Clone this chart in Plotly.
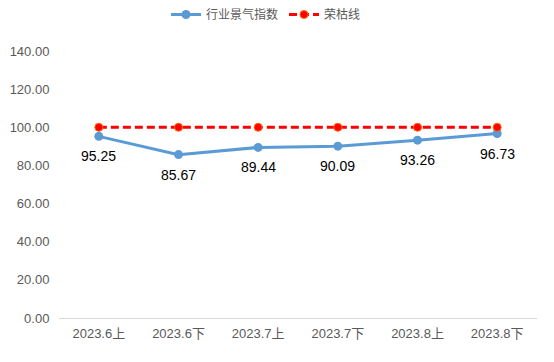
import plotly.graph_objects as go

categories = ["2023.6上", "2023.6下", "2023.7上", "2023.7下", "2023.8上", "2023.8下"]
index_values = [95.25, 85.67, 89.44, 90.09, 93.26, 96.73]
baseline_values = [100, 100, 100, 100, 100, 100]
y_ticks = [0, 20, 40, 60, 80, 100, 120, 140]

FONT = "Liberation Sans, Noto Sans CJK SC, sans-serif"

fig = go.Figure()
fig.add_trace(go.Scatter(
    x=categories, y=index_values, name="行业景气指数",
    mode="lines+markers",
    line=dict(color="#5B9BD5", width=3),
    marker=dict(color="#5B9BD5", size=9),
))
fig.add_trace(go.Scatter(
    x=categories, y=baseline_values, name="荣枯线",
    mode="lines+markers",
    line=dict(color="#FF0000", width=3, dash="8px,4px"),
    marker=dict(color="#FF0000", size=8, line=dict(color="#FF6A00", width=1)),
))

for c, v in zip(categories, index_values):
    fig.add_annotation(x=c, y=v, text=f"{v:.2f}", showarrow=False,
                       yshift=-20, yanchor="middle",
                       font=dict(size=14, color="#000000", family=FONT))

fig.update_layout(
    width=554, height=362,
    margin=dict(l=59, r=17, t=51, b=44, autoexpand=False),
    paper_bgcolor="white", plot_bgcolor="white",
    font=dict(family=FONT, size=13, color="#595959"),
    showlegend=True,
    legend=dict(orientation="h", x=166 / 554, xanchor="left", xref="container",
                y=1.0, yanchor="top", yref="container",
                font=dict(size=12, color="#595959"),
                itemwidth=30, entrywidth=73, entrywidthmode="pixels"),
    xaxis=dict(type="category", range=[-0.5, 5.5], showgrid=False,
               showline=True, linecolor="#D9D9D9", linewidth=1,
               ticks="outside", ticklen=3, tickcolor="rgba(0,0,0,0)",
               tickfont=dict(size=13, color="#595959")),
    yaxis=dict(range=[0, 140], tickvals=y_ticks,
               ticktext=[f"{v:.2f}" for v in y_ticks],
               showgrid=False, zeroline=False, showline=False,
               ticks="outside", ticklen=6, tickcolor="rgba(0,0,0,0)",
               tickfont=dict(size=13, color="#595959")),
)
fig.write_html("out.html", config={"displayModeBar": False},
               post_script="document.body.style.margin='0';")
